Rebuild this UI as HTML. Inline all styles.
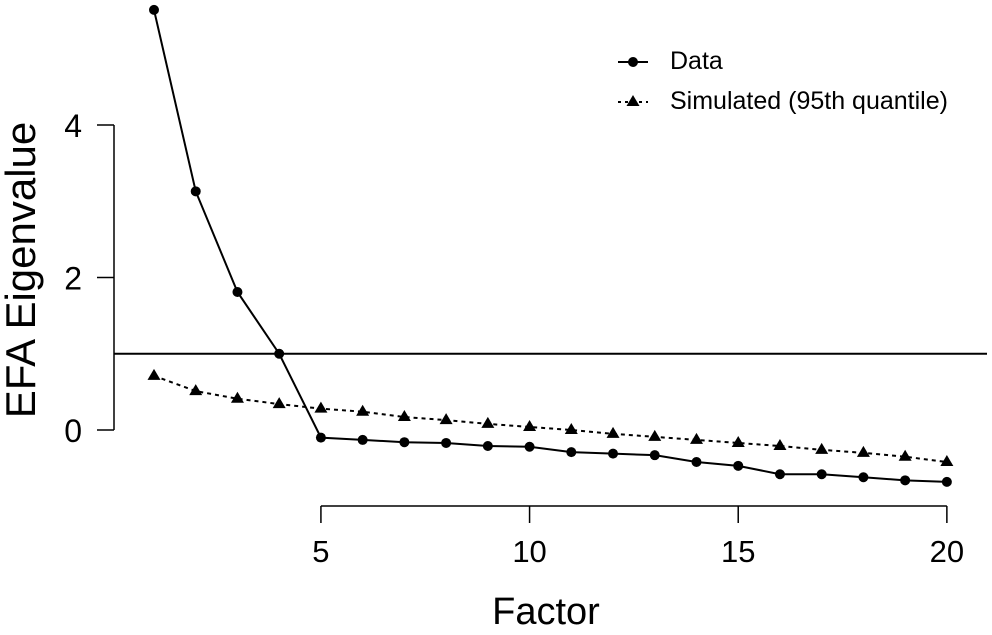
<!DOCTYPE html>
<html><head><meta charset="utf-8"><style>
body{margin:0;background:#fff}
svg{display:block;font-family:"Liberation Sans",sans-serif}
</style></head><body>
<svg id="chart" width="992" height="635" viewBox="0 0 992 635">
<g id="axes"></g><g id="marks"></g>
<g>
<line x1="618" y1="62" x2="648" y2="62" stroke="#000" stroke-width="2"/>
<circle cx="633" cy="62" r="5" fill="#000"/>
<text x="670" y="69" font-size="25">Data</text>
<line x1="618" y1="102" x2="648" y2="102" stroke="#000" stroke-width="2" stroke-dasharray="3,4"/>
<polygon points="633,95 639.5,106 626.5,106" fill="#000"/>
<text x="670" y="109" font-size="25">Simulated (95th quantile)</text>
</g>
<text x="546" y="624" font-size="38" text-anchor="middle">Factor</text>
<text transform="translate(35,270) rotate(-90)" font-size="42" text-anchor="middle">EFA Eigenvalue</text>
</svg>
<script>
const factors=[1,2,3,4,5,6,7,8,9,10,11,12,13,14,15,16,17,18,19,20];
const dataVals=[5.51,3.13,1.81,1.0,-0.10,-0.13,-0.16,-0.17,-0.21,-0.22,-0.29,-0.31,-0.33,-0.42,-0.47,-0.58,-0.58,-0.62,-0.66,-0.68];
const simVals=[0.71,0.51,0.41,0.34,0.28,0.24,0.17,0.13,0.08,0.04,0.0,-0.05,-0.09,-0.13,-0.17,-0.21,-0.26,-0.30,-0.35,-0.42];
const xTicks=[5,10,15,20];
const yTicks=[0,2,4];
const refLine=1;
const NS="http://www.w3.org/2000/svg";
const X=v=>154+(v-1)*41.73;
const Y=v=>430-v*76.25;
function mk(t,a,p){const e=document.createElementNS(NS,t);for(const k in a)e.setAttribute(k,a[k]);p.appendChild(e);return e;}
const axes=document.getElementById('axes'),marks=document.getElementById('marks');
let e=mk('line',{x1:114,y1:Y(4),x2:114,y2:Y(0),stroke:'#000','stroke-width':1.5},axes);


yTicks.forEach(t=>{
 mk('line',{x1:97,y1:Y(t),x2:114,y2:Y(t),stroke:'#000','stroke-width':1.5},axes);
 const tx=mk('text',{x:82,y:Y(t)+12,'font-size':32,'text-anchor':'end'},axes);tx.textContent=t;
 
 
});
e=mk('line',{x1:X(5),y1:506,x2:X(20),y2:506,stroke:'#000','stroke-width':1.5},axes);


xTicks.forEach(t=>{
 mk('line',{x1:X(t),y1:506,x2:X(t),y2:523,stroke:'#000','stroke-width':1.5},axes);
 const tx=mk('text',{x:X(t),y:562,'font-size':31,'text-anchor':'middle'},axes);tx.textContent=t;
 
 
});
e=mk('line',{x1:114,y1:Y(refLine),x2:987,y2:Y(refLine),stroke:'#000','stroke-width':2},marks);


e=mk('polyline',{points:factors.map((f,i)=>X(f)+','+Y(simVals[i])).join(' '),fill:'none',stroke:'#000','stroke-width':2,'stroke-dasharray':'4,4'},marks);


e=mk('polyline',{points:factors.map((f,i)=>X(f)+','+Y(dataVals[i])).join(' '),fill:'none',stroke:'#000','stroke-width':2},marks);


factors.forEach((f,i)=>{
 const x=X(f),y=Y(simVals[i]);
 const p=mk('polygon',{points:`${x},${y-7} ${x+6.5},${y+4} ${x-6.5},${y+4}`,fill:'#000'},marks);
 
 
 const c=mk('circle',{cx:x,cy:Y(dataVals[i]),r:5,fill:'#000'},marks);
 
 
});
</script>
</body></html>
